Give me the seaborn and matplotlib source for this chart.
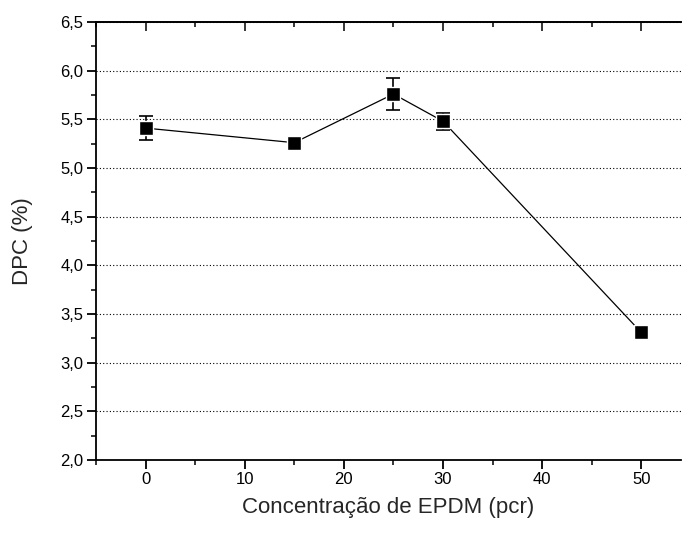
import matplotlib
matplotlib.use("Agg")
import matplotlib.pyplot as plt
from matplotlib.ticker import MultipleLocator, FuncFormatter
import seaborn as sns
import pandas as pd

# EPDM content (pcr) and compression set (%) with standard deviation
epdm = [0, 15, 25, 30, 50]
dpc = [5.41, 5.26, 5.76, 5.48, 3.31]
dpc_err = [0.12, 0.0, 0.16, 0.09, 0.0]

df = pd.DataFrame({"epdm": epdm, "dpc": dpc, "err": dpc_err})

sns.set_style("ticks")
plt.rcParams["font.family"] = ["Liberation Sans", "DejaVu Sans"]

fig = plt.figure(figsize=(6.82, 5.34), dpi=100)
ax = fig.add_axes([0.1408, 0.1386, 0.8577, 0.8202])

ax.errorbar(df["epdm"], df["dpc"], yerr=df["err"], fmt="none",
            ecolor="black", elinewidth=1.2, capsize=5, capthick=1.2, zorder=3)
sns.lineplot(data=df, x="epdm", y="dpc", ax=ax, color="black", linewidth=0.9,
             marker="s", markersize=9.5, markerfacecolor="black",
             markeredgecolor="white", markeredgewidth=1.0, zorder=4)

ax.set_xlim(-5, 54)
ax.set_ylim(2.0, 6.5)
ax.xaxis.set_major_locator(MultipleLocator(10))
ax.xaxis.set_minor_locator(MultipleLocator(5))
ax.yaxis.set_major_locator(MultipleLocator(0.5))
ax.yaxis.set_minor_locator(MultipleLocator(0.25))
ax.yaxis.set_major_formatter(FuncFormatter(lambda v, p: f"{v:.1f}".replace(".", ",")))

ax.grid(axis="y", which="major", linestyle=(0, (1, 2)), color="black", linewidth=0.8)
ax.grid(axis="x", visible=False)

for s in ax.spines.values():
    s.set_linewidth(1.3)
    s.set_color("black")
ax.spines["right"].set_visible(False)

ax.tick_params(which="major", direction="out", length=6.5, width=1.3,
               labelsize=12, colors="black", pad=2.5)
ax.tick_params(which="minor", direction="out", length=3.5, width=1.3)

# mirrored top axis with inward ticks and no labels
top = ax.secondary_xaxis("top")
top.xaxis.set_major_locator(MultipleLocator(10))
top.xaxis.set_minor_locator(MultipleLocator(5))
top.tick_params(which="major", direction="in", length=6.5, width=1.3, labeltop=False)
top.tick_params(which="minor", direction="in", length=3.5, width=1.3)
top.spines["top"].set_linewidth(1.3)

ax.set_xlabel("Concentração de EPDM (pcr)", fontsize=16, labelpad=7)
ax.set_ylabel("DPC (%)", fontsize=16, labelpad=20)

fig.savefig("out.png", dpi=100)
